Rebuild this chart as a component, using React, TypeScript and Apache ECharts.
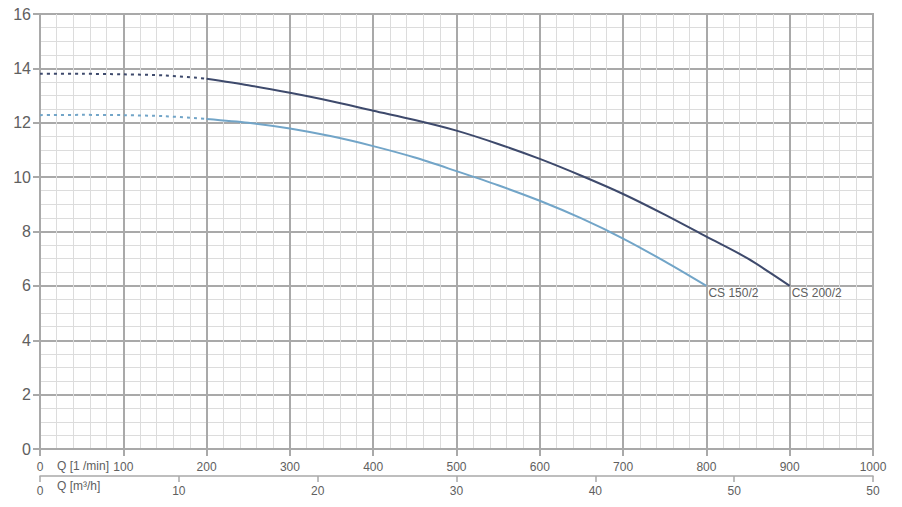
import React, { useEffect, useRef } from "react";
import * as echarts from "echarts";

// Q [1/min] vs H [m]
const cs200DottedQ = [0, 50, 100, 150, 200];
const cs200DottedH = [13.8, 13.8, 13.78, 13.74, 13.62];
const cs200Q = [200, 250, 300, 350, 400, 450, 500, 550, 600, 650, 700, 750, 800, 850, 900];
const cs200H = [13.62, 13.38, 13.1, 12.79, 12.44, 12.1, 11.71, 11.22, 10.67, 10.05, 9.38, 8.62, 7.81, 7.0, 6.0];

const cs150DottedQ = [0, 50, 100, 150, 200];
const cs150DottedH = [12.28, 12.29, 12.28, 12.24, 12.14];
const cs150Q = [200, 250, 300, 350, 400, 450, 500, 550, 600, 650, 700, 750, 800];
const cs150H = [12.14, 12.0, 11.79, 11.5, 11.14, 10.72, 10.22, 9.7, 9.13, 8.48, 7.74, 6.9, 6.0];

const seriesNames = ["CS 200/2", "CS 150/2"];
const m3hTickLabels = ["0", "10", "20", "30", "40", "50", "50"];
const flowUnitLabel = "Q [1 /min]";
const m3hUnitLabel = "Q [m³/h]";

const DARK = "#3e4a6c";
const LIGHT = "#72a5c8";
const MAJOR = "#a9a9a9";
const MINOR = "#dcdcdc";
const TEXT = "#606060";
const FONT = "Liberation Sans, Arial, sans-serif";

const zip = (xs: number[], ys: number[]) => xs.map((x, i) => [x, ys[i]]);

export default function App() {
  const ref = useRef<HTMLDivElement>(null);
  useEffect(() => {
    if (!ref.current) return;
    const chart = echarts.init(ref.current, null, { renderer: "svg" });
    const endLabel = (q: number, h: number, name: string) => ({
      symbol: "circle",
      symbolSize: 0,
      silent: true,
      data: [
        {
          coord: [q, h],
          label: {
            show: true,
            formatter: name,
            position: [2, 1],
            color: TEXT,
            fontSize: 12,
            fontFamily: FONT,
          },
        },
      ],
    });
    chart.setOption({
      animation: false,
      backgroundColor: "#ffffff",
      textStyle: { fontFamily: FONT },
      grid: { left: 40, right: 29, top: 14, bottom: 58, show: true, borderColor: MAJOR, borderWidth: 2 },
      xAxis: [
        {
          type: "value",
          min: 0,
          max: 1000,
          interval: 100,
          position: "bottom",
          axisLine: { show: true, lineStyle: { color: MAJOR, width: 2 } },
          axisTick: { show: true, length: 7, lineStyle: { color: MAJOR, width: 2 } },
          axisLabel: { color: TEXT, fontSize: 12, margin: 12, formatter: (v: number) => String(v) },
          splitLine: { show: true, lineStyle: { color: MAJOR, width: 2 } },
          minorTick: { show: false, splitNumber: 5 },
          minorSplitLine: { show: true, lineStyle: { color: MINOR, width: 1 } },
        },
        {
          type: "value",
          min: 0,
          max: 60,
          interval: 10,
          position: "bottom",
          offset: 27,
          axisLine: { show: true, lineStyle: { color: MAJOR, width: 1.5 } },
          axisTick: { show: true, length: 6, lineStyle: { color: MAJOR, width: 1.5 } },
          axisLabel: {
            color: TEXT,
            fontSize: 12,
            margin: 9,
            formatter: (v: number) => m3hTickLabels[Math.round(v / 10)] ?? "",
          },
          splitLine: { show: false },
        },
      ],
      yAxis: {
        type: "value",
        min: 0,
        max: 16,
        interval: 2,
        axisLine: { show: true, lineStyle: { color: MAJOR, width: 2 } },
        axisTick: { show: true, length: 7, lineStyle: { color: MAJOR, width: 2 } },
        axisLabel: { color: TEXT, fontSize: 16, margin: 9 },
        splitLine: { show: true, lineStyle: { color: MAJOR, width: 2 } },
        minorTick: { show: false, splitNumber: 4 },
        minorSplitLine: { show: true, lineStyle: { color: MINOR, width: 1 } },
      },
      series: [
        {
          name: seriesNames[1] + " dotted",
          type: "line",
          xAxisIndex: 0,
          data: zip(cs150DottedQ, cs150DottedH),
          smooth: 0.3,
          showSymbol: false,
          lineStyle: { color: LIGHT, width: 2, type: [3, 4] },
        },
        {
          name: seriesNames[1],
          type: "line",
          xAxisIndex: 0,
          data: zip(cs150Q, cs150H),
          smooth: 0.3,
          showSymbol: false,
          lineStyle: { color: LIGHT, width: 2 },
          markPoint: endLabel(cs150Q[cs150Q.length - 1], cs150H[cs150H.length - 1], seriesNames[1]),
        },
        {
          name: seriesNames[0] + " dotted",
          type: "line",
          xAxisIndex: 0,
          data: zip(cs200DottedQ, cs200DottedH),
          smooth: 0.3,
          showSymbol: false,
          lineStyle: { color: DARK, width: 2, type: [3, 4] },
        },
        {
          name: seriesNames[0],
          type: "line",
          xAxisIndex: 0,
          data: zip(cs200Q, cs200H),
          smooth: 0.3,
          showSymbol: false,
          lineStyle: { color: DARK, width: 2 },
          markPoint: endLabel(cs200Q[cs200Q.length - 1], cs200H[cs200H.length - 1], seriesNames[0]),
        },
      ],
      graphic: [
        {
          type: "text",
          left: 57,
          top: 460,
          style: { text: flowUnitLabel, fill: TEXT, fontSize: 12, fontFamily: FONT },
        },
        {
          type: "text",
          left: 57,
          top: 480,
          style: { text: m3hUnitLabel, fill: TEXT, fontSize: 12, fontFamily: FONT },
        },
      ],
    });
    return () => chart.dispose();
  }, []);
  return (
    <div
      ref={ref}
      style={{ position: "fixed", left: 0, top: 0, width: 902, height: 507, background: "#fff" }}
    />
  );
}
